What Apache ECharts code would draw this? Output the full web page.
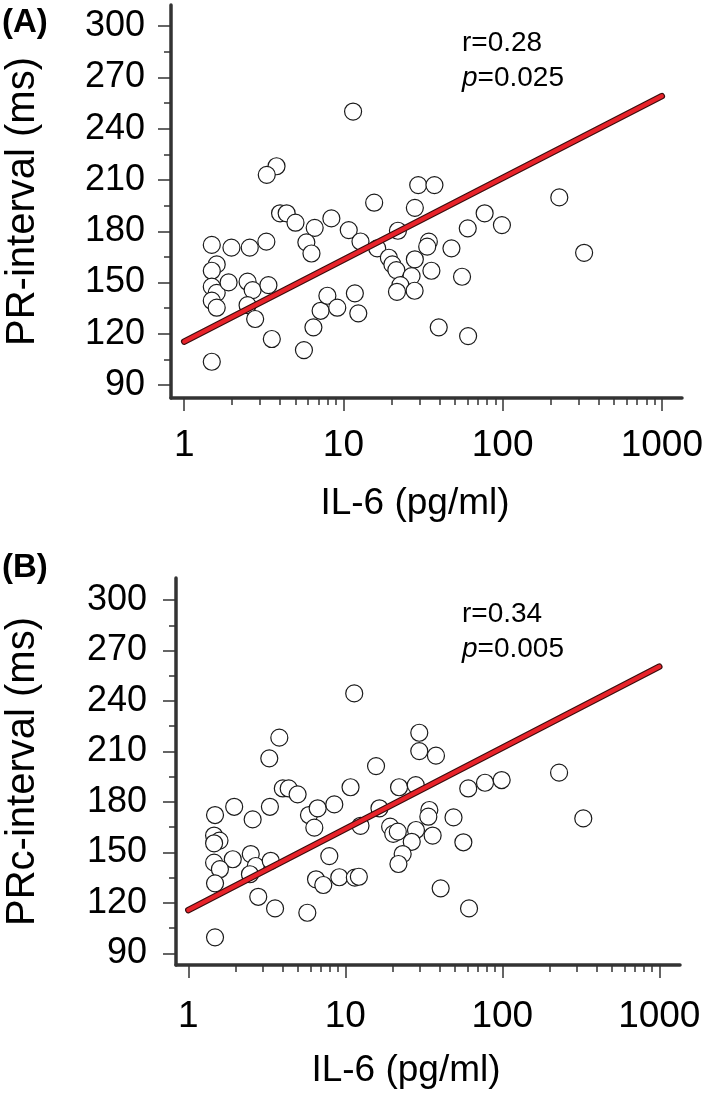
<!DOCTYPE html>
<html><head><meta charset="utf-8">
<script src="https://cdn.jsdelivr.net/npm/echarts@6/dist/echarts.min.js"></script>
<style>html,body{margin:0;padding:0;background:#fff}#c{width:709px;height:1103px}</style>
</head><body><div id="c"></div>
<script>
// Panel A: IL-6 vs PR-interval
const il6A = [11.5,3.8,3.3,4.0,4.4,5.0,8.4,6.6,5.85,6.3,10.8,12.8,15.6,1.49,1.98,2.58,3.28,1.60,1.49,1.49,1.60,1.49,1.60,1.49,1.90,2.5,2.69,3.38,2.5,2.79,3.55,5.65,6.48,7.19,7.93,9.15,11.8,12.4,29.5,37.3,28.1,22,16.3,19.3,20.3,21.5,28.1,34.4,33.6,47.7,60.4,77.1,99,227,325,35.7,26.8,22.8,21.7,28,55.6,39.7,60.7];
const prA = [250,218,213,190.5,190.5,185,187.5,182,173.5,167,180.7,174,196.7,172,170.4,170.4,173.9,160.6,156.9,147.6,144,139.4,135.3,103.7,150.1,150.5,145.6,148.5,136.8,128.7,117,110.5,123.8,133.5,142.3,135.3,143.7,132,207,207,193.7,180.3,170,164.5,160.6,157.3,163.6,173.9,171,170,181.7,190.5,183.6,199.8,167.4,156.9,153.8,148.5,144.6,145.2,153.4,123.8,118.7];
// Panel B: IL-6 vs PRc-interval
const il6B = [11.4,3.8,3.28,4.0,4.36,4.97,10.8,1.96,3.31,1.48,2.57,5.87,6.67,8.51,6.35,1.46,1.58,1.46,1.92,2.5,1.46,1.59,2.69,3.35,2.47,1.48,7.91,6.51,7.24,9.16,11.5,12.2,2.79,3.57,5.73,1.48,29.6,29.6,37.8,15.7,22,28.1,60.7,77.6,99.1,230,328,16.5,12.5,19.3,20.2,21.6,28.2,26.5,23.2,21.8,34.3,33.8,48.9,36,56.5,40.5,61.4];
const prcB = [244.5,218.2,205.9,188,188,184.5,188.7,177.1,177.1,172.2,169.6,172.2,176.2,178.5,164.7,160,157,155.4,145.9,149,143.9,140,141.9,145,137,131.6,147.8,134,130.6,135.2,135,135.5,123.6,116.7,114.1,99.5,221.1,210.2,207.5,201.3,188.7,190,188,191.4,193,197.4,170.2,176.2,165.8,165.3,161,162.3,163.3,156.3,149,143.1,175.2,171.2,170.8,160,156,128.6,116.7];
// regression lines (endpoints)
const fitX = [1, 1000];
const fitA = [115.5, 259];
const fitB = [115.7, 260.4];
// ticks
const xMajor = [1, 10, 100, 1000];
const xMinor = [2,3,4,5,6,7,8,9,20,30,40,50,60,70,80,90,200,300,400,500,600,700,800,900];
const yMajor = [90,120,150,180,210,240,270,300];
const yMinor = [105,135,165,195,225,255,285];
// texts
const statsA = ['r=0.28', '0.025'];
const statsB = ['r=0.34', '0.005'];

const FONT = "'Liberation Sans', Arial, sans-serif";
const AX = '#333';

function xAxes(grid, min, max, margin, gap, padR) {
  return [{
    gridIndex: grid, type: 'log', min: min, max: max, position: 'bottom',
    axisLine: {onZero: false, lineStyle: {color: AX, width: 3.5, cap: 'round'}},
    axisTick: {customValues: xMajor, length: 13, lineStyle: {color: AX, width: 1.5}},
    axisLabel: {customValues: xMajor, margin: margin, fontSize: 37, color: '#000', fontFamily: FONT,
      formatter: v => String(v)},
    splitLine: {show: false}, minorTick: {show: false},
    name: 'IL-6 (pg/ml)', nameLocation: 'middle', nameGap: gap,
    nameTextStyle: {fontSize: 37, color: '#000', fontFamily: FONT, padding: [0, padR, 0, 0]}
  }, {
    gridIndex: grid, type: 'log', min: min, max: max, position: 'bottom',
    axisLine: {show: false, onZero: false},
    axisTick: {customValues: xMinor, length: 7, lineStyle: {color: AX, width: 1.5}},
    axisLabel: {show: false}, splitLine: {show: false}
  }];
}
function yAxes(grid, min, max, margin, gap, name) {
  return [{
    gridIndex: grid, type: 'value', min: min, max: max, position: 'left',
    axisLine: {show: true, onZero: false, lineStyle: {color: AX, width: 3.5, cap: 'round'}},
    axisTick: {show: true, customValues: yMajor, length: 13, lineStyle: {color: AX, width: 1.5}},
    axisLabel: {customValues: yMajor, margin: margin, fontSize: 36, color: '#000', fontFamily: FONT},
    splitLine: {show: false},
    name: name, nameLocation: 'middle', nameGap: gap,
    nameTextStyle: {fontSize: 40, color: '#000', fontFamily: FONT}
  }, {
    gridIndex: grid, type: 'value', min: min, max: max, position: 'left',
    axisLine: {show: false, onZero: false},
    axisTick: {show: true, customValues: yMinor, length: 7, lineStyle: {color: AX, width: 1.5}},
    axisLabel: {show: false}, splitLine: {show: false}
  }];
}
function scatter(xi, yi, xs, ys) {
  return {
    type: 'scatter', xAxisIndex: xi, yAxisIndex: yi,
    data: xs.map((x, i) => [x, ys[i]]),
    symbol: 'circle', symbolSize: 17, z: 2, silent: true,
    itemStyle: {color: '#fff', borderColor: '#1a1a1a', borderWidth: 1.2, opacity: 1}
  };
}
function fit(xi, yi, ys, color, width, z) {
  return {
    type: 'line', xAxisIndex: xi, yAxisIndex: yi,
    data: fitX.map((x, i) => [x, ys[i]]),
    showSymbol: false, symbol: 'none', z: z, silent: true,
    lineStyle: {color: color, width: width, cap: 'round'}
  };
}
function stat(left, top, lines) {
  return [{
    text: lines[0], left: left, top: top, padding: 0,
    textStyle: {fontSize: 28, fontWeight: 'normal', color: '#000', fontFamily: FONT}
  }, {
    text: '{i|p}=' + lines[1], left: left, top: top + 35, padding: 0,
    textStyle: {fontSize: 28, fontWeight: 'normal', color: '#000', fontFamily: FONT,
      rich: {i: {fontStyle: 'italic', fontSize: 28, color: '#000', fontFamily: FONT}}}
  }];
}

const chart = echarts.init(document.getElementById('c'), null, {renderer: 'canvas'});
chart.setOption({
  animation: false,
  backgroundColor: '#fff',
  title: [
    {text: '(A)', left: 2, top: 6, padding: 0, textStyle: {fontSize: 33, fontWeight: 'bold', color: '#000', fontFamily: FONT}},
    {text: '(B)', left: 2, top: 551, padding: 0, textStyle: {fontSize: 33, fontWeight: 'bold', color: '#000', fontFamily: FONT}},
    ...stat(462, 29, statsA),
    ...stat(462, 600, statsB)
  ],
  grid: [
    {left: 171, top: 5, width: 511, height: 393, outerBoundsMode: 'none'},
    {left: 176, top: 578, width: 504, height: 387, outerBoundsMode: 'none'}
  ],
  xAxis: [
    ...xAxes(0, 0.826, 1339, 29, 87, 23),
    ...xAxes(1, 0.835, 1355, 33, 87, 44)
  ],
  yAxis: [
    ...yAxes(0, 82.5, 312.3, 26, 128, 'PR-interval (ms)'),
    ...yAxes(1, 83.05, 313.1, 29, 133, 'PRc-interval (ms)')
  ],
  series: [
    scatter(0, 0, il6A, prA),
    fit(0, 0, fitA, '#3a0d0d', 6.5, 3),
    fit(0, 0, fitA, '#e8232a', 4.2, 4),
    scatter(2, 2, il6B, prcB),
    fit(2, 2, fitB, '#3a0d0d', 6.5, 3),
    fit(2, 2, fitB, '#e8232a', 4.2, 4)
  ]
});
</script>
</body></html>
